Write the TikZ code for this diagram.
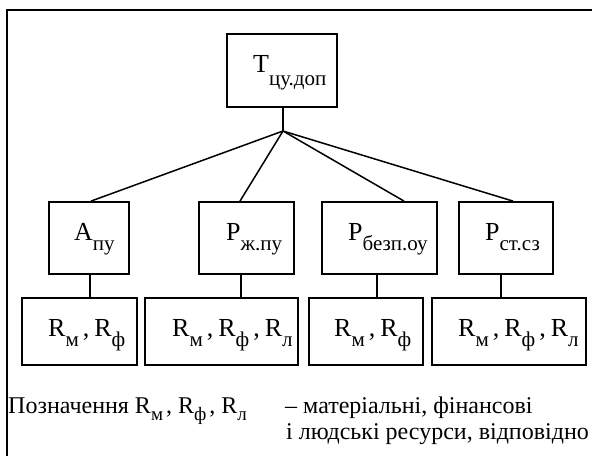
\documentclass[tikz,border=0pt]{standalone}
\usepackage{fontspec}
\setmainfont{Liberation Serif}
\newcommand\lowsub[2][10pt]{\raisebox{-#1}{\fontsize{21}{21}\selectfont #2}}
\newcommand\legsub[1]{\raisebox{-7pt}{\fontsize{19}{19}\selectfont #1}}
\newcommand\rsep{\kern4pt,\kern5pt}
\tikzset{
  box/.style={draw, line width=1.8pt, inner sep=0pt},
  lbl/.style={anchor=base west, inner sep=0pt, font=\fontsize{26}{30}\selectfont},
  leg/.style={anchor=base west, inner sep=0pt, font=\fontsize{24}{28}\selectfont},
  link/.style={line width=1.5pt}
}
\begin{document}
\begin{tikzpicture}[x=1pt, y=-1pt]
    \useasboundingbox (0,0) rectangle (592,456);
    % Frame
    \draw[link] (7,456) -- (7,10) -- (592,10);

    % Top box
    \node[box, minimum width=110, minimum height=73] (top) at (282,70.5) {};
    \node[lbl] (ttop) at (253,72) {T\lowsub[13pt]{цу.доп}};
    \coordinate (j) at (283,131);

    % Second row
    \node[box, minimum width=80, minimum height=72] (apu) at (89,238) {};
    \node[box, minimum width=95, minimum height=72] (pzh) at (246.5,238) {};
    \node[box, minimum width=115, minimum height=72] (pbez) at (379.5,238) {};
    \node[box, minimum width=94, minimum height=72] (pst) at (506,238) {};
    \node[lbl] (tapu) at (74,240) {A\lowsub{пу}};
    \node[lbl] (tpzh) at (226,240) {P\lowsub{ж.пу}};
    \node[lbl] (tpbez) at (348,240) {P\lowsub{безп.оу}};
    \node[lbl] (tpst) at (485,240) {P\lowsub{ст.сз}};

    % Third row
    \node[box, minimum width=115, minimum height=67] (rapu) at (79.5,331.5) {};
    \node[box, minimum width=153, minimum height=67] (rpzh) at (221.5,331.5) {};
    \node[box, minimum width=114, minimum height=67] (rpbez) at (366,331.5) {};
    \node[box, minimum width=154, minimum height=67] (rpst) at (509,331.5) {};
    \node[lbl] (trapu) at (48,336) {R\lowsub{м}\rsep R\lowsub{ф}};
    \node[lbl] (trpzh) at (172,336) {R\lowsub{м}\rsep R\lowsub{ф}\rsep R\lowsub{л}};
    \node[lbl] (trpbez) at (334,336) {R\lowsub{м}\rsep R\lowsub{ф}};
    \node[lbl] (trpst) at (458,336) {R\lowsub{м}\rsep R\lowsub{ф}\rsep R\lowsub{л}};

    % Connectors
    \draw[link] ([xshift=1]top.south) -- (j);
    \draw[link] (j) -- ([xshift=2]apu.north);
    \draw[link] (j) -- ([xshift=-6.5]pzh.north);
    \draw[link] (j) -- ([xshift=24.5]pbez.north);
    \draw[link] (j) -- ([xshift=7]pst.north);
    \draw[link] ([xshift=1]apu.south) -- ([xshift=1]apu.south |- rapu.north);
    \draw[link] ([xshift=-5.5]pzh.south) -- ([xshift=-5.5]pzh.south |- rpzh.north);
    \draw[link] ([xshift=-2.5]pbez.south) -- ([xshift=-2.5]pbez.south |- rpbez.north);
    \draw[link] ([xshift=-5]pst.south) -- ([xshift=-5]pst.south |- rpst.north);

    % Legend
    \node[leg] (leg1) at (8,413) {Позначення R\legsub{м}\kern3pt,\kern6pt R\legsub{ф}\kern3pt,\kern6pt R\legsub{л}};
    \node[leg] (leg2) at (285,413) {– матеріальні, фінансові};
    \node[leg] (leg3) at (286,439) {і людські ресурси, відповідно};
\end{tikzpicture}
\end{document}
